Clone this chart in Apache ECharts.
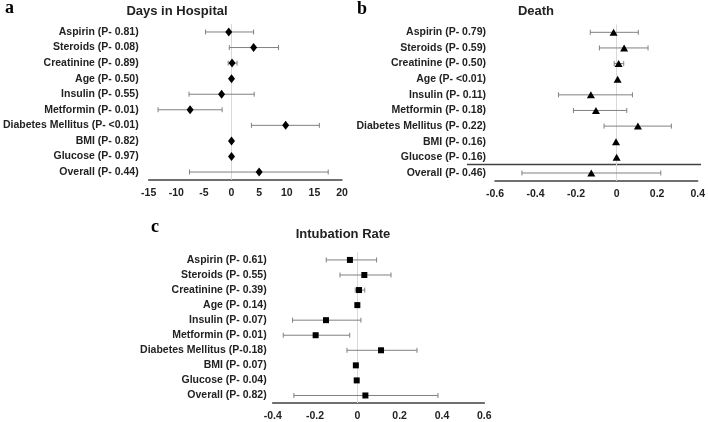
<!DOCTYPE html>
<html><head><meta charset="utf-8">
<script src="https://cdn.jsdelivr.net/npm/echarts@6/dist/echarts.min.js"></script>
<style>html,body{margin:0;padding:0;background:#fff}#c{width:708px;height:422px}</style>
</head><body><div id="c"></div>
<script>
const categoriesA = ['Aspirin (P- 0.81)','Steroids (P- 0.08)','Creatinine (P- 0.89)','Age (P- 0.50)','Insulin (P- 0.55)','Metformin (P- 0.01)','Diabetes Mellitus (P- <0.01)','BMI (P- 0.82)','Glucose (P- 0.97)','Overall (P- 0.44)'];
const estA  = [-0.5, 4.0, 0.1, 0, -1.8, -7.5, 9.8, 0, 0, 5.0];
const lowA  = [-4.7, -0.4, -0.6, 0, -7.7, -13.3, 3.6, 0, 0, -7.6];
const highA = [4.0, 8.5, 1.0, 0, 4.1, -1.7, 15.9, 0, 0, 17.5];

const categoriesB = ['Aspirin (P- 0.79)','Steroids (P- 0.59)','Creatinine (P- 0.50)','Age (P- <0.01)','Insulin (P- 0.11)','Metformin (P- 0.18)','Diabetes Mellitus (P- 0.22)','BMI (P- 0.16)','Glucose (P- 0.16)','Overall (P- 0.46)'];
const estB  = [-0.015, 0.037, 0.01, 0.005, -0.127, -0.102, 0.105, -0.003, 0, -0.125];
const lowB  = [-0.13, -0.085, -0.012, 0.005, -0.287, -0.213, -0.062, -0.003, 0, -0.467];
const highB = [0.107, 0.155, 0.035, 0.005, 0.078, 0.05, 0.27, -0.003, 0, 0.218];

const categoriesC = ['Aspirin (P- 0.61)','Steroids (P- 0.55)','Creatinine (P- 0.39)','Age (P- 0.14)','Insulin (P- 0.07)','Metformin (P- 0.01)','Diabetes Mellitus (P-0.18)','BMI (P- 0.07)','Glucose (P- 0.04)','Overall (P- 0.82)'];
const estC  = [-0.035, 0.033, 0.008, 0, -0.148, -0.197, 0.112, -0.007, -0.003, 0.038];
const lowC  = [-0.147, -0.082, -0.01, 0, -0.306, -0.35, -0.049, -0.007, -0.003, -0.3];
const highC = [0.091, 0.159, 0.035, 0, 0.017, -0.036, 0.282, -0.007, -0.003, 0.381];

const ticksA = {min: -15, max: 20, interval: 5};
const ticksB = {min: -0.6, max: 0.4, interval: 0.2};
const ticksC = {min: -0.4, max: 0.6, interval: 0.2};

const FONT = "'Liberation Sans', Arial, sans-serif";
const SERIF = "'Liberation Serif', 'Times New Roman', serif";

const chart = echarts.init(document.getElementById('c'), null, {renderer: 'canvas'});

function xAxisDef(gi, t) {
  return {
    type: 'value', gridIndex: gi, min: t.min, max: t.max, interval: t.interval,
    axisLine: {show: true, lineStyle: {color: '#404040', width: 1.5}},
    axisTick: {show: false}, splitLine: {show: false},
    axisLabel: {margin: 8, fontFamily: FONT, fontWeight: 'bold', fontSize: 10.5, color: '#222',
      formatter: v => String(Math.round(v * 10) / 10)}
  };
}
function yAxisDef(gi, cats, margin) {
  return {
    type: 'category', gridIndex: gi, data: cats, inverse: true,
    axisLine: {show: false}, axisTick: {show: false}, splitLine: {show: false},
    axisLabel: {margin: margin, fontFamily: FONT, fontWeight: 'bold', fontSize: 10.5, color: '#222'}
  };
}
function errSeries(gi, low, high, cap) {
  return {
    type: 'custom', xAxisIndex: gi, yAxisIndex: gi, silent: true, z: 2,
    encode: {x: [0, 1], y: 2},
    data: low.map((l, i) => [l, high[i], i]),
    renderItem: function (params, api) {
      const a = api.coord([api.value(0), api.value(2)]);
      const b = api.coord([api.value(1), api.value(2)]);
      if (Math.abs(b[0] - a[0]) < 0.5) return {type: 'group', children: []};
      const st = {stroke: '#808080', lineWidth: 1};
      return {type: 'group', children: [
        {type: 'line', shape: {x1: a[0], y1: a[1], x2: b[0], y2: b[1]}, style: st},
        {type: 'line', shape: {x1: a[0], y1: a[1] - cap, x2: a[0], y2: a[1] + cap}, style: st},
        {type: 'line', shape: {x1: b[0], y1: b[1] - cap, x2: b[0], y2: b[1] + cap}, style: st}
      ]};
    }
  };
}
function ptSeries(gi, est, symbol, size) {
  return {
    type: 'scatter', xAxisIndex: gi, yAxisIndex: gi, z: 5, symbol: symbol, symbolSize: size,
    itemStyle: {color: '#000', opacity: 1},
    data: est.map((v, i) => [v, i]),
    markLine: {silent: true, symbol: 'none', label: {show: false}, z: 1,
      lineStyle: {color: '#d9d9d9', width: 1, type: 'solid'},
      data: [{xAxis: 0}]}
  };
}

const titleStyle = {fontFamily: FONT, fontWeight: 'bold', fontSize: 13, color: '#222'};
const letterStyle = {fontFamily: SERIF, fontWeight: 'bold', fontSize: 18, color: '#000'};

chart.setOption({
  animation: false,
  title: [
    {text: 'Days in Hospital', left: 172, top: 0, textAlign: 'center', textStyle: titleStyle},
    {text: 'Death', left: 531, top: 0, textAlign: 'center', textStyle: titleStyle},
    {text: 'Intubation Rate', left: 338, top: 223, textAlign: 'center', textStyle: titleStyle},
    {text: 'a', left: 0, top: -6, textStyle: letterStyle},
    {text: 'b', left: 352, top: -5, textStyle: letterStyle},
    {text: 'c', left: 146, top: 213, textStyle: letterStyle}
  ],
  grid: [
    {left: 145, top: 24.2, width: 197, height: 155.6},
    {left: 495, top: 24.5, width: 205, height: 156.3},
    {left: 272.7, top: 252.4, width: 211.6, height: 151.9}
  ],
  xAxis: [xAxisDef(0, ticksA), xAxisDef(1, ticksB), xAxisDef(2, ticksC)],
  yAxis: [yAxisDef(0, categoriesA, 10), yAxisDef(1, categoriesB, 9), yAxisDef(2, categoriesC, 6)],
  graphic: [
    {type: 'line', shape: {x1: 467, y1: 164.5, x2: 701, y2: 164.5}, style: {stroke: '#404040', lineWidth: 1.5}}
  ],
  series: [
    errSeries(0, lowA, highA, 2.5), ptSeries(0, estA, 'diamond', [7, 9]),
    errSeries(1, lowB, highB, 2.5), ptSeries(1, estB, 'triangle', [8, 7]),
    errSeries(2, lowC, highC, 2.5), ptSeries(2, estC, 'rect', 6)
  ]
});
</script></body></html>
